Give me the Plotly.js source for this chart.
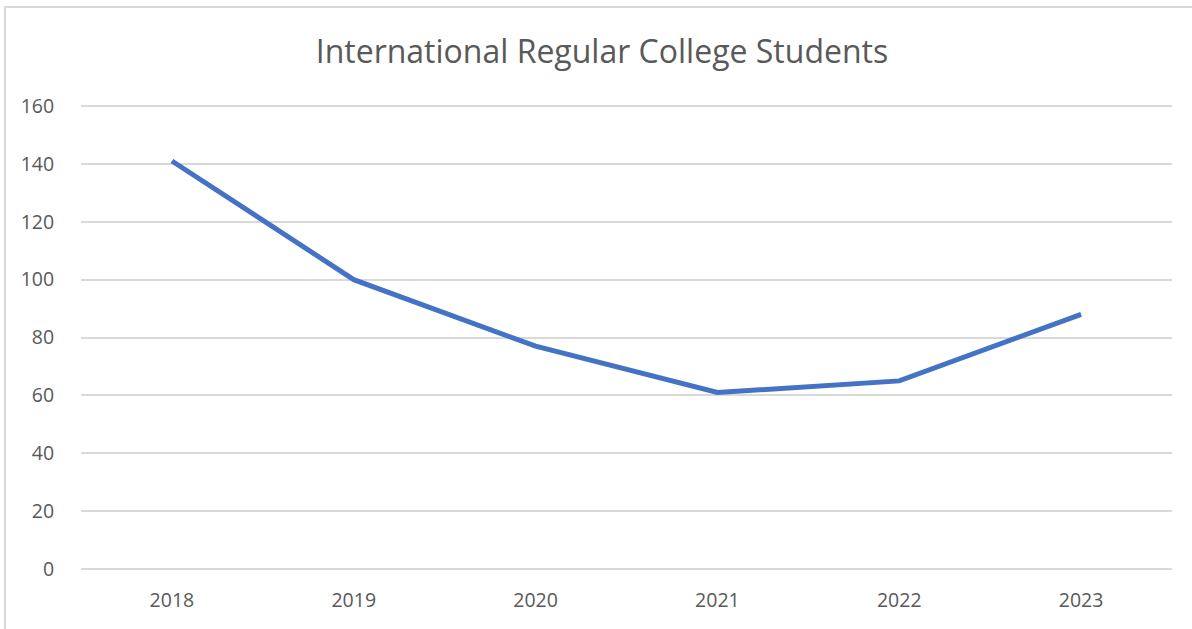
<!DOCTYPE html>
<html>
<head>
<meta charset="utf-8">
<script src="https://cdn.plot.ly/plotly-3.0.1.min.js"></script>
<style>
  html, body { margin: 0; padding: 0; background: #ffffff; }
  #frame { position: absolute; left: 4px; top: 6px; width: 1200px; height: 640px; border: 2px solid #d9d9d9; box-sizing: border-box; }
  #chart { position: absolute; left: 0; top: 0; width: 1192px; height: 629px; }
</style>
</head>
<body>
<div id="frame"></div>
<div id="chart"></div>
<script>
const years = ["2018", "2019", "2020", "2021", "2022", "2023"];
const students = [141, 100, 77, 61, 65, 88];
const yTicks = [0, 20, 40, 60, 80, 100, 120, 140, 160];
const chartTitle = "International Regular College Students";

const trace = {
  x: years,
  y: students,
  type: "scatter",
  mode: "lines",
  line: { color: "#4472C4", width: 5 },
  hoverinfo: "x+y"
};

const layout = {
  width: 1192,
  height: 629,
  paper_bgcolor: "rgba(0,0,0,0)",
  plot_bgcolor: "rgba(0,0,0,0)",
  margin: { l: 81, r: 20, t: 104, b: 58 },
  showlegend: false,
  font: { family: "Open Sans, sans-serif", color: "#595959" },
  title: {
    text: chartTitle,
    font: { family: "Open Sans, sans-serif", size: 32, color: "#595959" },
    xref: "container", x: 0.505, xanchor: "center",
    yref: "container", y: 0.918, yanchor: "middle"
  },
  xaxis: {
    type: "category",
    range: [-0.5, 5.5],
    showgrid: false,
    zeroline: false,
    showline: false,
    ticks: "outside",
    ticklen: 12,
    tickcolor: "rgba(0,0,0,0)",
    tickfont: { size: 19.5, color: "#595959" }
  },
  yaxis: {
    range: [-0.7, 160.7],
    tickvals: yTicks,
    ticktext: yTicks.map(String),
    showgrid: true,
    gridcolor: "#d9d9d9",
    gridwidth: 2,
    zeroline: false,
    showline: false,
    ticks: "outside",
    ticklen: 22,
    tickcolor: "rgba(0,0,0,0)",
    tickfont: { size: 19.5, color: "#595959" }
  }
};

Plotly.newPlot("chart", [trace], layout, { displayModeBar: false, staticPlot: true });
</script>
</body>
</html>
